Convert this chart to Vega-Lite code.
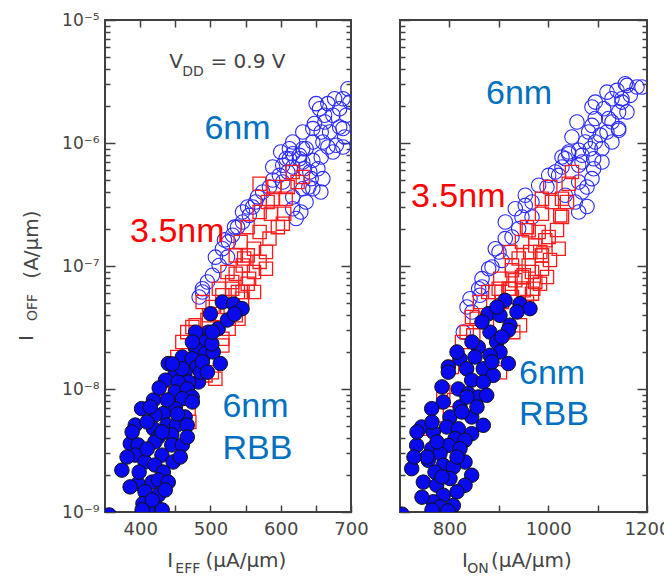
{
  "$schema": "https://vega.github.io/schema/vega-lite/v6.json",
  "background": "white",
  "padding": {"left": 15, "top": 10, "right": 0, "bottom": 0},
  "spacing": 49,
  "bounds": "flush",
  "datasets": {
    "L6": [{"x":695.7,"y":2.76e-6},{"x":688.6,"y":2.29e-6},{"x":676.7,"y":2.29e-6},{"x":667.1,"y":2.09e-6},{"x":655.3,"y":1.90e-6},{"x":650.4,"y":2.09e-6},{"x":683.9,"y":1.90e-6},{"x":693.3,"y":1.68e-6},{"x":674.3,"y":1.68e-6},{"x":662.4,"y":1.68e-6},{"x":648.1,"y":1.44e-6},{"x":669.6,"y":1.23e-6},{"x":683.9,"y":1.35e-6},{"x":691,"y":1.12e-6},{"x":657.6,"y":1.23e-6},{"x":645.7,"y":1.02e-6},{"x":667.1,"y":9.28e-7},{"x":679,"y":9.58e-7},{"x":636.1,"y":8.99e-7},{"x":657.6,"y":7.69e-7},{"x":626.7,"y":7.94e-7},{"x":645.7,"y":7.23e-7},{"x":617.1,"y":8.18e-7},{"x":607.6,"y":7.45e-7},{"x":633.9,"y":6.18e-7},{"x":652.9,"y":6.18e-7},{"x":660,"y":5.13e-7},{"x":643.3,"y":5.13e-7},{"x":645.7,"y":4.25e-7},{"x":631.4,"y":4.25e-7},{"x":688.6,"y":1.31e-6},{"x":645.7,"y":1.31e-6},{"x":612.4,"y":8.99e-7},{"x":626.7,"y":7.45e-7},{"x":612.4,"y":7.45e-7},{"x":636.1,"y":3.31e-7},{"x":617.1,"y":2.92e-7},{"x":621.9,"y":2.43e-7},{"x":598.1,"y":5.46e-7},{"x":583.9,"y":4.39e-7},{"x":555.3,"y":2.58e-7},{"x":545.7,"y":2.28e-7},{"x":531.4,"y":1.78e-7},{"x":517.1,"y":1.38e-7},{"x":512.4,"y":1.01e-7},{"x":502.9,"y":8.40e-8},{"x":488.6,"y":6.53e-8},{"x":545.7,"y":2.75e-7},{"x":574.3,"y":4.0e-7},{"x":602.9,"y":6.59e-7},{"x":631.4,"y":8.99e-7},{"x":488.6,"y":6.15e-8},{"x":483.9,"y":5.60e-8},{"x":640,"y":4.39e-7},{"x":628.6,"y":2.75e-7},{"x":564.3,"y":3.31e-7},{"x":525.7,"y":1.57e-7},{"x":662.9,"y":1.48e-6},{"x":600,"y":8.45e-7},{"x":588.6,"y":6.38e-7},{"x":524.3,"y":1.18e-7},{"x":495.7,"y":7.41e-8},{"x":538.6,"y":2.07e-7},{"x":560,"y":3.02e-7},{"x":602.9,"y":4.82e-7},{"x":617.1,"y":6.38e-7},{"x":507.1,"y":1.18e-7},{"x":520,"y":1.63e-7},{"x":534.3,"y":2.07e-7},{"x":552.9,"y":3.02e-7},{"x":567.1,"y":3.65e-7},{"x":588.6,"y":5.0e-7},{"x":610,"y":5.81e-7},{"x":631.4,"y":7.01e-7},{"x":660,"y":1.02e-6},{"x":674.3,"y":8.45e-7},{"x":688.6,"y":9.28e-7},{"x":698.6,"y":2.15e-6},{"x":631.4,"y":1.23e-6},{"x":617.1,"y":1.02e-6},{"x":641.4,"y":5.81e-7},{"x":657.1,"y":4.0e-7},{"x":617.1,"y":3.64e-7}],
    "L35": [{"x":617,"y":5.81e-7},{"x":570,"y":4.67e-7},{"x":591,"y":4.39e-7},{"x":624,"y":4.82e-7},{"x":607,"y":3.52e-7},{"x":589,"y":3.52e-7},{"x":570,"y":2.75e-7},{"x":586,"y":2.66e-7},{"x":605,"y":2.66e-7},{"x":603,"y":2.21e-7},{"x":570,"y":1.89e-7},{"x":584,"y":1.67e-7},{"x":543,"y":1.57e-7},{"x":562,"y":1.38e-7},{"x":579,"y":1.30e-7},{"x":536,"y":1.22e-7},{"x":553,"y":1.22e-7},{"x":546,"y":1.01e-7},{"x":570,"y":1.08e-7},{"x":579,"y":9.51e-8},{"x":536,"y":8.66e-8},{"x":555,"y":7.89e-8},{"x":512,"y":6.53e-8},{"x":531,"y":6.53e-8},{"x":596,"y":2.07e-7},{"x":548,"y":1.15e-7},{"x":562,"y":8.94e-8},{"x":531,"y":7.41e-8},{"x":553,"y":7.18e-8},{"x":562,"y":6.15e-8},{"x":539,"y":6.15e-8},{"x":517,"y":5.78e-8},{"x":489,"y":5.09e-8},{"x":545,"y":5.42e-8},{"x":540,"y":3.73e-8},{"x":526,"y":3.09e-8},{"x":467,"y":2.90e-8},{"x":479,"y":3.30e-8},{"x":517,"y":2.26e-8},{"x":502,"y":1.37e-8},{"x":507,"y":1.21e-8},{"x":431,"y":1.0e-8},{"x":469,"y":6.92e-9},{"x":498,"y":3.97e-8},{"x":536,"y":3.97e-8},{"x":460,"y":2.41e-8},{"x":517,"y":2.56e-8},{"x":493,"y":1.29e-8},{"x":470,"y":5.39e-9},{"x":503,"y":4.64e-8},{"x":524,"y":4.64e-8},{"x":495.7,"y":3.64e-8},{"x":474.3,"y":3.19e-8},{"x":452.9,"y":1.82e-8},{"x":481.4,"y":2.19e-8},{"x":445.7,"y":1.18e-8},{"x":460,"y":8.34e-9},{"x":610,"y":4.39e-7},{"x":631.4,"y":5.30e-7},{"x":581.4,"y":3.31e-7},{"x":552.9,"y":2.07e-7},{"x":524.3,"y":8.94e-8},{"x":545.7,"y":6.15e-8},{"x":510,"y":4.07e-8}],
    "LR": [{"x":517,"y":5.09e-8},{"x":533,"y":4.91e-8},{"x":545,"y":4.50e-8},{"x":500,"y":4.09e-8},{"x":511,"y":3.09e-8},{"x":497,"y":2.90e-8},{"x":490,"y":2.41e-8},{"x":479,"y":2.13e-8},{"x":493,"y":1.94e-8},{"x":504,"y":2.0e-8},{"x":514,"y":1.61e-8},{"x":460,"y":1.82e-8},{"x":474,"y":1.76e-8},{"x":440,"y":1.61e-8},{"x":481,"y":1.51e-8},{"x":464,"y":1.37e-8},{"x":450,"y":1.37e-8},{"x":436,"y":1.18e-8},{"x":483,"y":1.14e-8},{"x":469,"y":1.14e-8},{"x":454,"y":1.14e-8},{"x":450,"y":9.46e-9},{"x":467,"y":1.0e-8},{"x":474,"y":8.61e-9},{"x":460,"y":8.34e-9},{"x":419,"y":8.14e-9},{"x":402,"y":6.92e-9},{"x":450,"y":6.92e-9},{"x":433,"y":6.30e-9},{"x":421,"y":6.15e-9},{"x":464,"y":5.92e-9},{"x":393,"y":5.09e-9},{"x":438,"y":5.09e-9},{"x":452,"y":5.09e-9},{"x":467,"y":5.09e-9},{"x":419,"y":4.75e-9},{"x":426,"y":4.07e-9},{"x":445,"y":4.23e-9},{"x":386,"y":3.59e-9},{"x":397,"y":3.51e-9},{"x":421,"y":3.71e-9},{"x":445,"y":3.51e-9},{"x":460,"y":3.51e-9},{"x":393,"y":2.90e-9},{"x":407,"y":2.55e-9},{"x":431,"y":2.90e-9},{"x":447,"y":2.55e-9},{"x":374,"y":2.19e-9},{"x":421,"y":2.41e-9},{"x":433,"y":2.11e-9},{"x":417,"y":1.75e-9},{"x":397,"y":1.70e-9},{"x":426,"y":1.82e-9},{"x":440,"y":1.75e-9},{"x":407,"y":1.46e-9},{"x":426,"y":1.37e-9},{"x":404,"y":1.17e-9},{"x":421,"y":1.14e-9},{"x":411,"y":1.04e-9},{"x":356,"y":9.46e-10},{"x":479,"y":2.90e-8},{"x":486,"y":1.37e-8},{"x":502,"y":2.33e-8},{"x":460,"y":1.46e-8},{"x":381.4,"y":2.80e-9},{"x":410,"y":3.25e-9},{"x":431.4,"y":4.47e-9},{"x":452.9,"y":6.27e-9},{"x":474.3,"y":7.84e-9},{"x":438.6,"y":8.14e-9},{"x":410,"y":5.39e-9},{"x":388.6,"y":4.47e-9},{"x":467.1,"y":4.07e-9},{"x":457.1,"y":2.80e-9},{"x":435.7,"y":1.51e-9},{"x":417.1,"y":1.25e-9},{"x":398.6,"y":2.11e-9},{"x":385.7,"y":1.60e-9},{"x":445.7,"y":1.60e-8},{"x":488.6,"y":1.66e-8},{"x":502.9,"y":2.90e-8},{"x":524.3,"y":3.64e-8},{"x":534.3,"y":4.07e-8},{"x":474.3,"y":2.41e-8},{"x":495.7,"y":1.37e-8},{"x":427.1,"y":1.02e-8},{"x":414.3,"y":7.14e-9},{"x":402.9,"y":1.04e-9},{"x":431.4,"y":1.04e-9}],
    "R6": [{"x":1179.7,"y":2.85e-6},{"x":1159.4,"y":2.94e-6},{"x":1139.2,"y":2.68e-6},{"x":1149.3,"y":2.29e-6},{"x":1129.1,"y":2.29e-6},{"x":1166.1,"y":2.44e-6},{"x":1112.3,"y":1.90e-6},{"x":1088.6,"y":1.96e-6},{"x":1142.6,"y":1.79e-6},{"x":1095.3,"y":1.58e-6},{"x":1129.1,"y":1.48e-6},{"x":1119,"y":1.23e-6},{"x":1142.6,"y":1.27e-6},{"x":1081.9,"y":1.23e-6},{"x":1105.4,"y":1.16e-6},{"x":1075.1,"y":1.02e-6},{"x":1108.8,"y":8.99e-7},{"x":1085.2,"y":8.99e-7},{"x":1061.7,"y":8.72e-7},{"x":1041.4,"y":8.18e-7},{"x":1027.9,"y":7.69e-7},{"x":1092,"y":7.45e-7},{"x":1068.4,"y":7.01e-7},{"x":1092,"y":6.18e-7},{"x":1088.6,"y":5.13e-7},{"x":1014.3,"y":5.81e-7},{"x":1156,"y":3.03e-6},{"x":1149.3,"y":2.15e-6},{"x":1095.3,"y":2.15e-6},{"x":1122.4,"y":1.58e-6},{"x":1142.6,"y":1.31e-6},{"x":1088.6,"y":1.39e-6},{"x":1095.3,"y":1.02e-6},{"x":1041.4,"y":8.45e-7},{"x":1068.4,"y":7.94e-7},{"x":1034.6,"y":7.45e-7},{"x":1061.7,"y":6.59e-7},{"x":1021.2,"y":5.46e-7},{"x":1061.7,"y":4.82e-7},{"x":1054.8,"y":3.31e-7},{"x":1061.7,"y":2.75e-7},{"x":980.7,"y":4.53e-7},{"x":953.6,"y":3.76e-7},{"x":933.4,"y":2.92e-7},{"x":953.6,"y":3.11e-7},{"x":913.1,"y":2.28e-7},{"x":940.2,"y":2.01e-7},{"x":913.1,"y":1.67e-7},{"x":892.9,"y":1.38e-7},{"x":906.4,"y":1.11e-7},{"x":879.5,"y":9.51e-8},{"x":866,"y":7.89e-8},{"x":859.3,"y":6.53e-8},{"x":1001,"y":5.46e-7},{"x":1034.6,"y":3.76e-7},{"x":861.9,"y":5.78e-8},{"x":841.7,"y":5.42e-8},{"x":828.1,"y":2.90e-8},{"x":845.7,"y":4.23e-8},{"x":967.2,"y":2.50e-7},{"x":866,"y":6.75e-8},{"x":886.2,"y":9.82e-8},{"x":900.4,"y":1.30e-7},{"x":926.7,"y":1.72e-7},{"x":946.9,"y":2.50e-7},{"x":967.2,"y":3.31e-7},{"x":997.5,"y":4.39e-7},{"x":1027.9,"y":6.38e-7},{"x":1078.5,"y":4.39e-7},{"x":1108.8,"y":7.01e-7},{"x":1129.1,"y":1.02e-6},{"x":1159.4,"y":1.79e-6},{"x":1189.8,"y":2.85e-6},{"x":1119,"y":2.59e-6},{"x":1058.2,"y":1.48e-6},{"x":1048.1,"y":1.12e-6},{"x":1068.4,"y":4.0e-7},{"x":1078.5,"y":3.05e-7},{"x":835.6,"y":4.64e-8}],
    "R35": [{"x":1048.1,"y":5.81e-7},{"x":1041.5,"y":4.67e-7},{"x":1004.2,"y":4.39e-7},{"x":1027.9,"y":3.52e-7},{"x":987.4,"y":3.52e-7},{"x":1024.4,"y":2.58e-7},{"x":987.4,"y":2.66e-7},{"x":994.1,"y":1.62e-7},{"x":1021.2,"y":1.38e-7},{"x":973.8,"y":1.47e-7},{"x":946.9,"y":1.57e-7},{"x":987.4,"y":1.22e-7},{"x":940.2,"y":1.15e-7},{"x":960.5,"y":1.01e-7},{"x":987.4,"y":9.51e-8},{"x":926.7,"y":1.01e-7},{"x":950.4,"y":8.40e-8},{"x":973.8,"y":7.41e-8},{"x":923.3,"y":6.53e-8},{"x":899.8,"y":6.53e-8},{"x":960.5,"y":1.95e-7},{"x":980.7,"y":1.89e-7},{"x":1001,"y":1.72e-7},{"x":984,"y":1.30e-7},{"x":963.7,"y":1.30e-7},{"x":923.3,"y":1.30e-7},{"x":946.9,"y":8.14e-8},{"x":967.2,"y":8.94e-8},{"x":926.7,"y":9.23e-8},{"x":933.4,"y":7.65e-8},{"x":903,"y":7.89e-8},{"x":950.4,"y":6.34e-8},{"x":892.9,"y":6.15e-8},{"x":920,"y":6.53e-8},{"x":967.2,"y":5.96e-8},{"x":861.9,"y":5.09e-8},{"x":855.2,"y":3.73e-8},{"x":835,"y":2.90e-8},{"x":848.4,"y":2.73e-8},{"x":942.9,"y":3.30e-8},{"x":929.3,"y":2.90e-8},{"x":902.4,"y":1.37e-8},{"x":787.6,"y":9.46e-9},{"x":774.3,"y":6.11e-9},{"x":760.7,"y":4.75e-9},{"x":878.7,"y":6.15e-8},{"x":969.8,"y":6.53e-8},{"x":983.4,"y":7.18e-8},{"x":809.3,"y":8.14e-9},{"x":876,"y":3.64e-8},{"x":845.7,"y":3.85e-8},{"x":825.5,"y":2.41e-8},{"x":805.2,"y":1.51e-8},{"x":906.4,"y":5.09e-8},{"x":926.7,"y":5.60e-8},{"x":957,"y":5.09e-8},{"x":997.5,"y":8.14e-8},{"x":1027.9,"y":2.50e-7},{"x":1038,"y":3.31e-7},{"x":1007.6,"y":3.31e-7},{"x":957,"y":2.07e-7},{"x":1003.6,"y":1.12e-7},{"x":1017.8,"y":1.96e-7}],
    "RR": [{"x":912.5,"y":5.26e-8},{"x":942.9,"y":4.94e-8},{"x":963.1,"y":4.50e-8},{"x":878.7,"y":4.09e-8},{"x":902.4,"y":3.97e-8},{"x":922.6,"y":3.30e-8},{"x":919.2,"y":3.0e-8},{"x":882.2,"y":2.90e-8},{"x":895.7,"y":2.41e-8},{"x":858.5,"y":2.19e-8},{"x":902.4,"y":2.0e-8},{"x":882.2,"y":1.88e-8},{"x":851.8,"y":1.82e-8},{"x":821.4,"y":1.76e-8},{"x":919.2,"y":1.61e-8},{"x":797.8,"y":1.51e-8},{"x":868.6,"y":1.46e-8},{"x":835,"y":1.46e-8},{"x":797.8,"y":1.37e-8},{"x":888.8,"y":1.29e-8},{"x":845.1,"y":1.18e-8},{"x":868.6,"y":1.14e-8},{"x":818,"y":1.0e-8},{"x":838.2,"y":9.16e-9},{"x":858.5,"y":8.61e-9},{"x":875.5,"y":8.89e-9},{"x":787.6,"y":7.84e-9},{"x":821.4,"y":7.14e-9},{"x":764.2,"y":6.92e-9},{"x":845.1,"y":5.92e-9},{"x":801.2,"y":5.92e-9},{"x":743.9,"y":4.91e-9},{"x":794.5,"y":4.91e-9},{"x":818,"y":4.75e-9},{"x":868.6,"y":5.07e-9},{"x":767.4,"y":4.47e-9},{"x":845.1,"y":4.33e-9},{"x":811.3,"y":3.94e-9},{"x":831.6,"y":3.83e-9},{"x":733.8,"y":3.48e-9},{"x":797.8,"y":3.48e-9},{"x":764.2,"y":3.27e-9},{"x":821.4,"y":3.27e-9},{"x":781,"y":2.98e-9},{"x":757.3,"y":2.63e-9},{"x":831.6,"y":2.55e-9},{"x":787.6,"y":2.40e-9},{"x":807.9,"y":2.32e-9},{"x":723.7,"y":2.25e-9},{"x":770.8,"y":2.11e-9},{"x":845.1,"y":1.99e-9},{"x":801.2,"y":1.87e-9},{"x":747.2,"y":1.75e-9},{"x":774.3,"y":1.65e-9},{"x":831.6,"y":1.65e-9},{"x":787.6,"y":1.37e-9},{"x":767.4,"y":1.21e-9},{"x":807.9,"y":1.13e-9},{"x":781,"y":1.10e-9},{"x":704,"y":9.6e-10},{"x":797,"y":1.02e-9},{"x":815.4,"y":2.0e-8},{"x":845.7,"y":2.41e-8},{"x":866,"y":3.51e-8},{"x":896.3,"y":4.64e-8},{"x":936.8,"y":4.23e-8},{"x":785,"y":1.04e-8},{"x":764.8,"y":5.39e-9},{"x":734.4,"y":4.47e-9},{"x":754.6,"y":2.80e-9},{"x":815.4,"y":2.80e-9},{"x":785,"y":1.93e-9},{"x":815.4,"y":1.46e-9},{"x":744.5,"y":1.32e-9},{"x":825.5,"y":6.50e-9},{"x":855.8,"y":7.14e-9},{"x":886.2,"y":1.66e-8},{"x":906.4,"y":2.65e-8},{"x":835.6,"y":8.61e-9},{"x":774.9,"y":3.71e-9},{"x":728.3,"y":2.80e-9},{"x":764.8,"y":1.04e-9}]
  },
  "hconcat": [
    {
      "width": 246, "height": 492,
      "resolve": {"scale": {"x": "shared", "y": "shared"}, "axis": {"x": "independent", "y": "independent"}},
      "layer": [
        {
          "data": {"name": "L6"},
          "mark": {"type": "point", "shape": "circle", "filled": false, "stroke": "#2a2aff", "strokeWidth": 1.1, "size": 210, "opacity": 1, "clip": true},
          "encoding": {
            "x": {"field": "x", "type": "quantitative", "scale": {"domain": [350, 700], "nice": false, "zero": false},
                  "axis": {"orient": "bottom", "title": null, "values": [400, 450, 500, 550, 600, 650, 700], "labelExpr": "datum.value % 100 == 0 ? format(datum.value, 'd') : ''", "tickSize": -7, "labelPadding": 15}},
            "y": {"field": "y", "type": "quantitative", "scale": {"type": "log", "domain": [1e-9, 1e-5], "nice": false},
                  "axis": {"orient": "left", "title": null, "values": [1e-9, 1e-8, 1e-7, 1e-6, 1e-5], "labelExpr": "datum.value > 5e-6 ? '10⁻⁵' : datum.value > 5e-7 ? '10⁻⁶' : datum.value > 5e-8 ? '10⁻⁷' : datum.value > 5e-9 ? '10⁻⁸' : '10⁻⁹'", "tickSize": -10, "labelPadding": 16}}
          }
        },
        {
          "data": {"name": "L35"},
          "mark": {"type": "point", "shape": "square", "filled": false, "stroke": "#ff1a1a", "strokeWidth": 1.3, "size": 175, "opacity": 1, "clip": true},
          "encoding": {
            "x": {"field": "x", "type": "quantitative", "scale": {"domain": [350, 700], "nice": false, "zero": false},
                  "axis": {"orient": "top", "title": null, "values": [400, 450, 500, 550, 600, 650], "labels": false, "tickSize": -7}},
            "y": {"field": "y", "type": "quantitative", "scale": {"type": "log", "domain": [1e-9, 1e-5], "nice": false},
                  "axis": {"orient": "left", "title": null, "values": [2e-9,3e-9,4e-9,5e-9,6e-9,7e-9,8e-9,9e-9,2e-8,3e-8,4e-8,5e-8,6e-8,7e-8,8e-8,9e-8,2e-7,3e-7,4e-7,5e-7,6e-7,7e-7,8e-7,9e-7,2e-6,3e-6,4e-6,5e-6,6e-6,7e-6,8e-6,9e-6], "labels": false, "tickSize": -5}}
          }
        },
        {
          "data": {"name": "LR"},
          "mark": {"type": "point", "shape": "circle", "filled": true, "fill": "#0a0aee", "stroke": "#111111", "strokeWidth": 1, "size": 210, "opacity": 1, "clip": true},
          "encoding": {
            "x": {"field": "x", "type": "quantitative", "scale": {"domain": [350, 700], "nice": false, "zero": false}, "axis": null},
            "y": {"field": "y", "type": "quantitative", "scale": {"type": "log", "domain": [1e-9, 1e-5], "nice": false},
                  "axis": {"orient": "right", "title": null, "values": [1e-9, 1e-8, 1e-7, 1e-6, 1e-5], "labels": false, "tickSize": -10}}
          }
        },
        {
          "data": {"values": [{"t": "6nm", "x": 491.4, "y": 1.078e-6}, {"t": "6nm", "x": 517.1, "y": 5.92e-9}, {"t": "RBB", "x": 517.1, "y": 2.70e-9}]},
          "mark": {"type": "text", "align": "left", "baseline": "alphabetic", "font": "Liberation Sans", "fontSize": 34, "color": "#0070c0"},
          "encoding": {
            "x": {"field": "x", "type": "quantitative", "axis": null},
            "y": {"field": "y", "type": "quantitative",
                  "axis": {"orient": "right", "title": null, "values": [2e-9,3e-9,4e-9,5e-9,6e-9,7e-9,8e-9,9e-9,2e-8,3e-8,4e-8,5e-8,6e-8,7e-8,8e-8,9e-8,2e-7,3e-7,4e-7,5e-7,6e-7,7e-7,8e-7,9e-7,2e-6,3e-6,4e-6,5e-6,6e-6,7e-6,8e-6,9e-6], "labels": false, "tickSize": -5}},
            "text": {"field": "t"}
          }
        },
        {
          "data": {"values": [{"t": "3.5nm", "x": 385.7, "y": 1.567e-7}]},
          "mark": {"type": "text", "align": "left", "baseline": "alphabetic", "font": "Liberation Sans", "fontSize": 34, "color": "#ff0000"},
          "encoding": {"x": {"field": "x", "type": "quantitative", "axis": null}, "y": {"field": "y", "type": "quantitative", "axis": null}, "text": {"field": "t"}}
        },
        {
          "data": {"values": [{"t": "V", "x": 441.4, "y": 4.555e-6}, {"t": "= 0.9 V", "x": 500, "y": 4.555e-6}, {"t": "I", "x": 438.6, "y": 3.996e-10}, {"t": "(μA/μm)", "x": 492.9, "y": 3.996e-10}]},
          "mark": {"type": "text", "align": "left", "baseline": "middle", "font": "DejaVu Sans", "fontSize": 20, "color": "#444444"},
          "encoding": {"x": {"field": "x", "type": "quantitative", "axis": null}, "y": {"field": "y", "type": "quantitative", "axis": null}, "text": {"field": "t"}}
        },
        {
          "data": {"values": [{"t": "DD", "x": 460, "y": 3.777e-6}, {"t": "EFF", "x": 450, "y": 3.44e-10}]},
          "mark": {"type": "text", "align": "left", "baseline": "middle", "font": "DejaVu Sans", "fontSize": 14, "color": "#444444"},
          "encoding": {"x": {"field": "x", "type": "quantitative", "axis": null}, "y": {"field": "y", "type": "quantitative", "axis": null}, "text": {"field": "t"}}
        },
        {
          "data": {"values": [{"t": "I", "x": 238.6, "y": 2.6e-8}, {"t": "(A/μm)", "x": 245.7, "y": 1.495e-7}]},
          "mark": {"type": "text", "align": "center", "baseline": "middle", "angle": 270, "font": "DejaVu Sans", "fontSize": 20, "color": "#444444"},
          "encoding": {"x": {"field": "x", "type": "quantitative", "axis": null}, "y": {"field": "y", "type": "quantitative", "axis": null}, "text": {"field": "t"}}
        },
        {
          "data": {"values": [{"t": "OFF", "x": 247.1, "y": 4.6e-8}]},
          "mark": {"type": "text", "align": "center", "baseline": "middle", "angle": 270, "font": "DejaVu Sans", "fontSize": 14, "color": "#444444"},
          "encoding": {"x": {"field": "x", "type": "quantitative", "axis": null}, "y": {"field": "y", "type": "quantitative", "axis": null}, "text": {"field": "t"}}
        }
      ]
    },
    {
      "width": 247, "height": 492,
      "resolve": {"scale": {"x": "shared", "y": "shared"}, "axis": {"x": "independent", "y": "independent"}},
      "layer": [
        {
          "data": {"name": "R6"},
          "mark": {"type": "point", "shape": "circle", "filled": false, "stroke": "#2a2aff", "strokeWidth": 1.1, "size": 210, "opacity": 1, "clip": true},
          "encoding": {
            "x": {"field": "x", "type": "quantitative", "scale": {"domain": [700, 1200], "nice": false, "zero": false},
                  "axis": {"orient": "bottom", "title": null, "values": [800, 900, 1000, 1100, 1200], "labelExpr": "datum.value % 200 == 0 ? format(datum.value, 'd') : ''", "tickSize": -7, "labelPadding": 15}},
            "y": {"field": "y", "type": "quantitative", "scale": {"type": "log", "domain": [1e-9, 1e-5], "nice": false},
                  "axis": {"orient": "left", "title": null, "values": [1e-9, 1e-8, 1e-7, 1e-6, 1e-5], "labels": false, "tickSize": -10}}
          }
        },
        {
          "data": {"name": "R35"},
          "mark": {"type": "point", "shape": "square", "filled": false, "stroke": "#ff1a1a", "strokeWidth": 1.3, "size": 175, "opacity": 1, "clip": true},
          "encoding": {
            "x": {"field": "x", "type": "quantitative", "scale": {"domain": [700, 1200], "nice": false, "zero": false},
                  "axis": {"orient": "top", "title": null, "values": [800, 900, 1000, 1100], "labels": false, "tickSize": -7}},
            "y": {"field": "y", "type": "quantitative", "scale": {"type": "log", "domain": [1e-9, 1e-5], "nice": false},
                  "axis": {"orient": "left", "title": null, "values": [2e-9,3e-9,4e-9,5e-9,6e-9,7e-9,8e-9,9e-9,2e-8,3e-8,4e-8,5e-8,6e-8,7e-8,8e-8,9e-8,2e-7,3e-7,4e-7,5e-7,6e-7,7e-7,8e-7,9e-7,2e-6,3e-6,4e-6,5e-6,6e-6,7e-6,8e-6,9e-6], "labels": false, "tickSize": -5}}
          }
        },
        {
          "data": {"name": "RR"},
          "mark": {"type": "point", "shape": "circle", "filled": true, "fill": "#0a0aee", "stroke": "#111111", "strokeWidth": 1, "size": 210, "opacity": 1, "clip": true},
          "encoding": {
            "x": {"field": "x", "type": "quantitative", "scale": {"domain": [700, 1200], "nice": false, "zero": false}, "axis": null},
            "y": {"field": "y", "type": "quantitative", "scale": {"type": "log", "domain": [1e-9, 1e-5], "nice": false},
                  "axis": {"orient": "right", "title": null, "values": [1e-9, 1e-8, 1e-7, 1e-6, 1e-5], "labels": false, "tickSize": -10}}
          }
        },
        {
          "data": {"values": [{"t": "6nm", "x": 874.1, "y": 2.076e-6}, {"t": "6nm", "x": 940.9, "y": 1.098e-8}, {"t": "RBB", "x": 940.9, "y": 5.10e-9}]},
          "mark": {"type": "text", "align": "left", "baseline": "alphabetic", "font": "Liberation Sans", "fontSize": 34, "color": "#0070c0"},
          "encoding": {
            "x": {"field": "x", "type": "quantitative", "axis": null},
            "y": {"field": "y", "type": "quantitative",
                  "axis": {"orient": "right", "title": null, "values": [2e-9,3e-9,4e-9,5e-9,6e-9,7e-9,8e-9,9e-9,2e-8,3e-8,4e-8,5e-8,6e-8,7e-8,8e-8,9e-8,2e-7,3e-7,4e-7,5e-7,6e-7,7e-7,8e-7,9e-7,2e-6,3e-6,4e-6,5e-6,6e-6,7e-6,8e-6,9e-6], "labels": false, "tickSize": -5}},
            "text": {"field": "t"}
          }
        },
        {
          "data": {"values": [{"t": "3.5nm", "x": 722.3, "y": 3.018e-7}]},
          "mark": {"type": "text", "align": "left", "baseline": "alphabetic", "font": "Liberation Sans", "fontSize": 34, "color": "#ff0000"},
          "encoding": {"x": {"field": "x", "type": "quantitative", "axis": null}, "y": {"field": "y", "type": "quantitative", "axis": null}, "text": {"field": "t"}}
        },
        {
          "data": {"values": [{"t": "I", "x": 825.5, "y": 3.996e-10}, {"t": "(μA/μm)", "x": 884, "y": 3.996e-10}]},
          "mark": {"type": "text", "align": "left", "baseline": "middle", "font": "DejaVu Sans", "fontSize": 20, "color": "#444444"},
          "encoding": {"x": {"field": "x", "type": "quantitative", "axis": null}, "y": {"field": "y", "type": "quantitative", "axis": null}, "text": {"field": "t"}}
        },
        {
          "data": {"values": [{"t": "ON", "x": 836, "y": 3.44e-10}]},
          "mark": {"type": "text", "align": "left", "baseline": "middle", "font": "DejaVu Sans", "fontSize": 14, "color": "#444444"},
          "encoding": {"x": {"field": "x", "type": "quantitative", "axis": null}, "y": {"field": "y", "type": "quantitative", "axis": null}, "text": {"field": "t"}}
        }
      ]
    }
  ],
  "config": {
    "view": {"stroke": "#404040", "strokeWidth": 2},
    "axis": {"domain": false, "grid": false, "labelFont": "DejaVu Sans", "labelColor": "#444444", "tickColor": "#404040", "tickWidth": 1.5, "labelFlush": false, "labelOverlap": false},
    "axisX": {"labelFontSize": 18},
    "axisY": {"labelFontSize": 17}
  }
}
